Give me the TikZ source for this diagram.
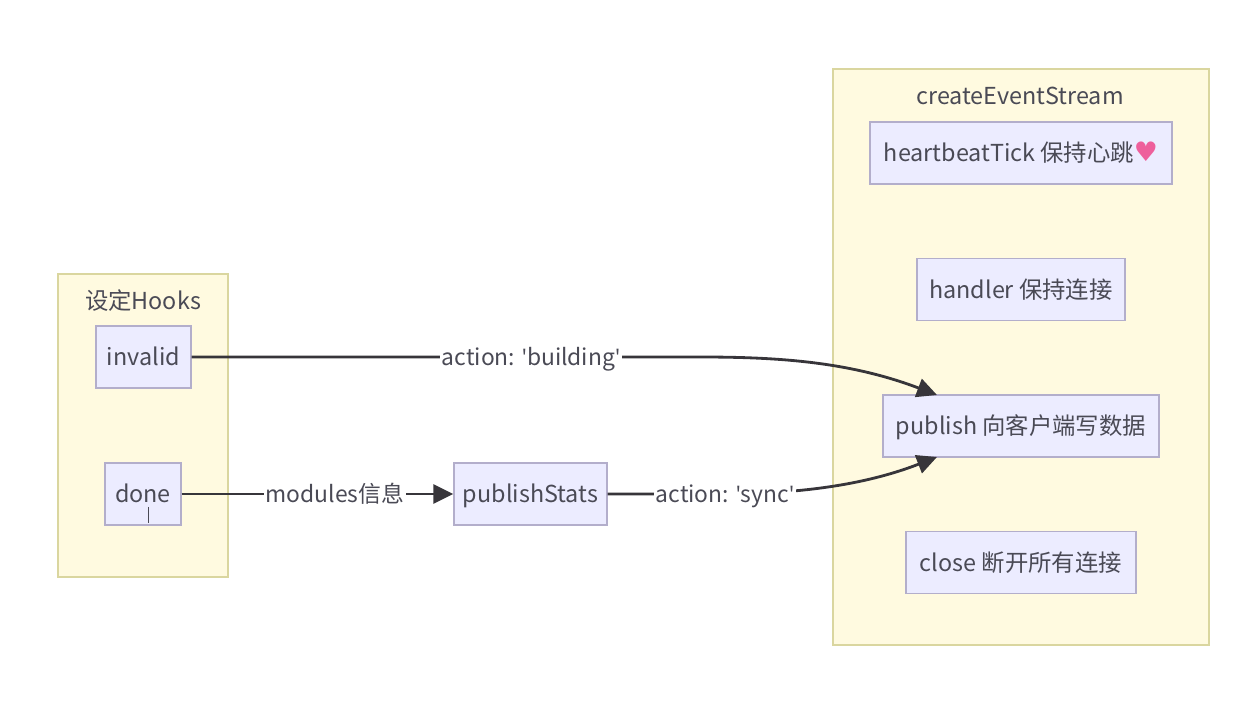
\documentclass[tikz,border=0pt]{standalone}
\usepackage{fontspec}
\setmainfont{Noto Sans CJK SC}
\newfontfamily\latinfont{Open Sans}
\newfontfamily\heartfont[Scale=1.15]{DejaVu Sans}
\usetikzlibrary{arrows.meta}
\definecolor{hookfill}{HTML}{FFFAE0}
\definecolor{hookline}{HTML}{DAD69F}
\definecolor{boxfill}{HTML}{ECECFF}
\definecolor{boxline}{HTML}{B3AECB}
\definecolor{inktext}{HTML}{4A4A55}
\definecolor{flowline}{HTML}{37353A}
\definecolor{heartpink}{HTML}{EE5F9C}
\newcommand{\quotemark}{{\latinfont'}}

\begin{document}
\begin{tikzpicture}[x=0.02cm,y=-0.02cm]
          \tikzstyle{cluster}=[rectangle,thick,draw=hookline,fill=hookfill,inner sep=0pt]
          \tikzstyle{title}=[text=inktext,font=\fontsize{13.3}{15}\selectfont,text height=11.4pt,text depth=1.6pt]
          \tikzstyle{block}=[rectangle,thick,draw=boxline,fill=boxfill,text=inktext,inner sep=0pt,minimum height=1.24cm,font=\fontsize{13.3}{15}\selectfont,text height=11.4pt,text depth=1.6pt]
          \tikzstyle{flow}=[line width=1.6pt,draw=flowline]
          \tikzstyle{tag}=[fill=white,text=inktext,inner sep=1pt,font=\fontsize{13}{15}\selectfont,text height=11.4pt,text depth=1.6pt]
          \tikzstyle{tip}=[-{Triangle[length=4mm,width=3.8mm]}]

          \useasboundingbox (0,0) rectangle (1254,712);

          \node[cluster,minimum width=3.4cm,minimum height=6.06cm] (hooks) at (143,425.5) {};
          \node[cluster,minimum width=7.52cm,minimum height=11.52cm] (stream) at (1021,357) {};
          \node[title] (hookstitle) at (143,301) {设定Hooks};
          \node[title] (streamtitle) at (1020,96) {createEventStream};

          \node[block,minimum width=1.9cm] (invalid) at (143.5,357) {invalid};
          \node[block,minimum width=1.52cm] (done) at (143,494) {done};
          \node[block,minimum width=3.06cm] (publishStats) at (530.5,494) {publishStats};
          \node[block,minimum width=6.04cm] (heartbeatTick) at (1021,153) {heartbeatTick 保持心跳{\color{heartpink}\heartfont\symbol{"2665}}};
          \node[block,minimum width=4.16cm] (handler) at (1021,289.5) {handler 保持连接};
          \node[block,minimum width=5.52cm] (publish) at (1021,426) {publish 向客户端写数据};
          \node[block,minimum width=4.6cm] (close) at (1021,562.5) {close 断开所有连接};

          \coordinate (pubtop) at (937,395);
          \coordinate (pubbottom) at (937,457);
          \coordinate (cursortop) at (148,507);
          \coordinate (cursorbottom) at (148,523);

          \draw[flow,tip] (invalid.east) -- (700,357)
            .. controls (780,357) and (850,362) .. (pubtop);
          \node[tag] (building) at (531,357) {action: \quotemark building\quotemark};

          \draw[flow,tip] (done.east) -- (publishStats.west);
          \node[tag] (modules) at (335,494) {modules信息};

          \draw[flow,tip] (publishStats.east) -- (720,494)
            .. controls (790,494) and (860,487) .. (pubbottom);
          \node[tag] (sync) at (725,494) {action: \quotemark sync\quotemark};

          \draw[thin,draw=inktext] (cursortop) -- (cursorbottom);
        \end{tikzpicture}
\end{document}
